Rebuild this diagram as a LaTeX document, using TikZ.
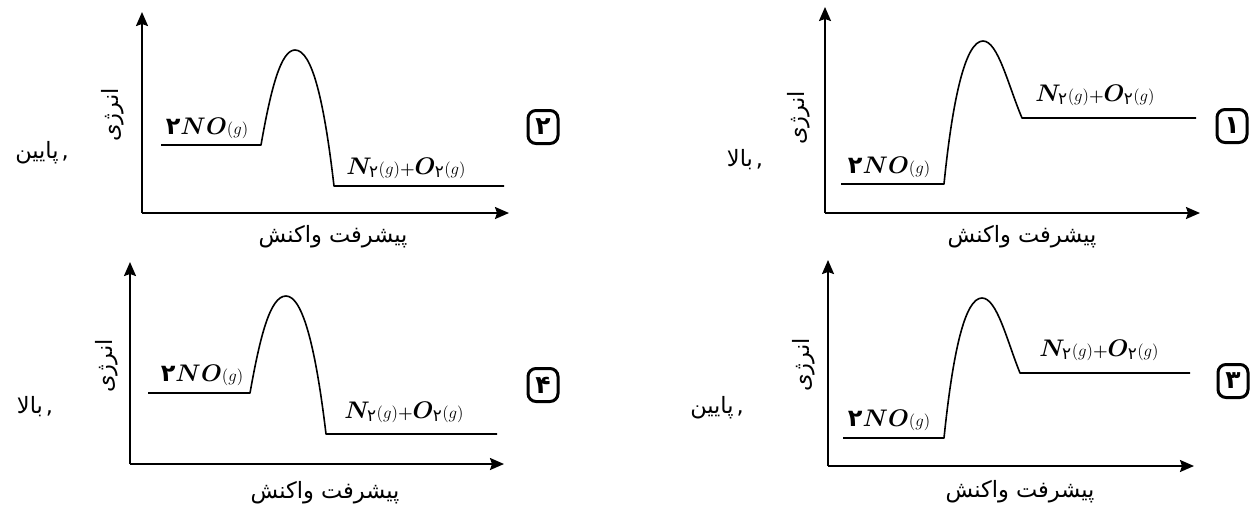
\documentclass[tikz,border=0pt]{standalone}
\usepackage{fix-cm}
\usepackage{amsmath}
\usepackage{bm}
\usepackage{fontspec}
\newfontfamily\arabicfont[Script=Arabic]{DejaVu Sans}
\TeXXeTstate=1
\usetikzlibrary{arrows.meta}
\newcommand\fa[1]{{\arabicfont\beginR #1\endR}}
\newcommand\pd{\text{\arabicfont ۲}}
\newcommand\rno{{\arabicfont\bfseries ۲}$\bm{NO}{\scriptstyle(g)}$}
\newcommand\pno{$\bm{N}_{\pd}{\scriptstyle(g)}{\scriptstyle\bm{+}}\bm{O}_{\pd}{\scriptstyle(g)}$}
\tikzset{
  axisline/.style={line width=1.9pt,-{Stealth[length=14pt,width=12pt,inset=2pt]}},
  curveline/.style={line width=1.6pt,line join=round},
  faLabel/.style={font=\fontsize{22.5}{26}\selectfont\arabicfont,inner sep=0pt},
  chemLabel/.style={font=\fontsize{24}{28}\selectfont,inner sep=0pt},
  numbox/.style={draw,line width=3pt,rounded corners=8pt,minimum width=30pt,minimum height=33pt,inner sep=0pt,font=\fontsize{25}{27}\selectfont\arabicfont\bfseries},
}
\begin{document}
\begin{tikzpicture}[x=1pt,y=-1pt]
\useasboundingbox (0,0) rectangle (1250,504);

% ---------- Panel 2 (top left) ----------
\coordinate (o2) at (142,213);
\coordinate (yt2) at (142,12);
\coordinate (xt2) at (509,213);
\draw[axisline] (o2) -- (yt2);
\draw[axisline] (o2) -- (xt2);
\coordinate (r2a) at (161,145);
\coordinate (r2b) at (261,145);
\coordinate (pk2) at (295,50);
\coordinate (p2a) at (334,186);
\coordinate (p2b) at (504,186);
\draw[curveline] (r2a) -- (r2b) .. controls (271,88) and (281,50) .. (pk2)
  .. controls (312,50) and (324,100) .. (p2a) -- (p2b);
\node[chemLabel] (l2a) at (207,128) {\rno};
\node[chemLabel] (l2b) at (406,168) {\pno};
\node[faLabel,rotate=90] (y2) at (113,115) {\fa{انرژی}};
\node[faLabel] (x2) at (333,237) {\fa{پیشرفت واکنش}};
\node[faLabel] (a2) at (42,153) {\fa{پایین}\kern3pt,};
\node[numbox] (n2) at (543,127) {۲};

% ---------- Panel 1 (top right) ----------
\coordinate (o1) at (825,213);
\coordinate (yt1) at (825,7);
\coordinate (xt1) at (1200,213);
\draw[axisline] (o1) -- (yt1);
\draw[axisline] (o1) -- (xt1);
\coordinate (r1a) at (841,184);
\coordinate (r1b) at (944,184);
\coordinate (pk1) at (983,41);
\coordinate (p1a) at (1022,118);
\coordinate (p1b) at (1196,118);
\draw[curveline] (r1a) -- (r1b) .. controls (953,95) and (966,41) .. (pk1)
  .. controls (998,41) and (1008,85) .. (p1a) -- (p1b);
\node[chemLabel] (l1a) at (889,167) {\rno};
\node[chemLabel] (l1b) at (1095,95) {\pno};
\node[faLabel,rotate=90] (y1) at (799,118) {\fa{انرژی}};
\node[faLabel] (x1) at (1022,237) {\fa{پیشرفت واکنش}};
\node[faLabel] (a1) at (745,160) {\fa{بالا}\kern3pt,};
\node[numbox] (n1) at (1232,126) {۱};

% ---------- Panel 4 (bottom left) ----------
\coordinate (o4) at (130,464);
\coordinate (yt4) at (130,262);
\coordinate (xt4) at (504,464);
\draw[axisline] (o4) -- (yt4);
\draw[axisline] (o4) -- (xt4);
\coordinate (r4a) at (148,393);
\coordinate (r4b) at (250,393);
\coordinate (pk4) at (286,296);
\coordinate (p4a) at (326,434);
\coordinate (p4b) at (497,434);
\draw[curveline] (r4a) -- (r4b) .. controls (260,337) and (270,296) .. (pk4)
  .. controls (303,296) and (316,350) .. (p4a) -- (p4b);
\node[chemLabel] (l4a) at (202,375) {\rno};
\node[chemLabel] (l4b) at (404,412) {\pno};
\node[faLabel,rotate=90] (y4) at (107,366) {\fa{انرژی}};
\node[faLabel] (x4) at (325,493) {\fa{پیشرفت واکنش}};
\node[faLabel] (a4) at (35,407) {\fa{بالا}\kern3pt,};
\node[numbox] (n4) at (543,385) {۴};

% ---------- Panel 3 (bottom right) ----------
\coordinate (o3) at (828,466);
\coordinate (yt3) at (828,260);
\coordinate (xt3) at (1194,466);
\draw[axisline] (o3) -- (yt3);
\draw[axisline] (o3) -- (xt3);
\coordinate (r3a) at (843,438);
\coordinate (r3b) at (944,438);
\coordinate (pk3) at (982,298);
\coordinate (p3a) at (1020,373);
\coordinate (p3b) at (1190,373);
\draw[curveline] (r3a) -- (r3b) .. controls (953,351) and (965,298) .. (pk3)
  .. controls (997,298) and (1007,341) .. (p3a) -- (p3b);
\node[chemLabel] (l3a) at (889,420) {\rno};
\node[chemLabel] (l3b) at (1099,350) {\pno};
\node[faLabel,rotate=90] (y3) at (804,365) {\fa{انرژی}};
\node[faLabel] (x3) at (1020,492) {\fa{پیشرفت واکنش}};
\node[faLabel] (a3) at (717,408) {\fa{پایین}\kern3pt,};
\node[numbox] (n3) at (1233,381) {۳};
\end{tikzpicture}
\end{document}
